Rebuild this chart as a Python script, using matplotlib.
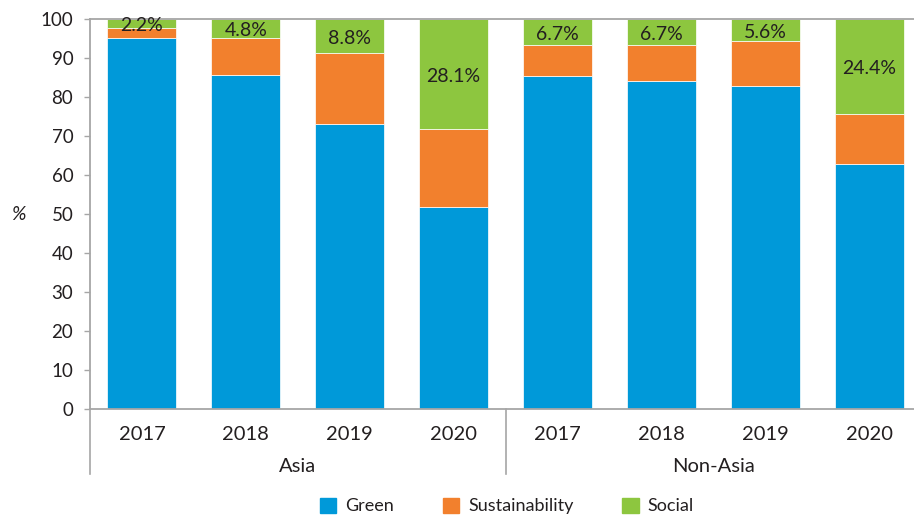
import matplotlib
matplotlib.use("Agg")
import matplotlib.pyplot as plt
import matplotlib.transforms as mtransforms
from matplotlib.patches import Patch
import numpy as np

plt.rcParams['font.family'] = ['Lato', 'DejaVu Sans']

groups = ["Asia", "Non-Asia"]
years = ["2017", "2018", "2019", "2020", "2017", "2018", "2019", "2020"]
green = [95.1, 85.6, 73.2, 51.7, 85.3, 84.2, 82.9, 62.7]
sustainability = [2.7, 9.6, 18.0, 20.2, 8.0, 9.1, 11.5, 12.9]
social = [2.2, 4.8, 8.8, 28.1, 6.7, 6.7, 5.6, 24.4]
social_labels = ["2.2%", "4.8%", "8.8%", "28.1%", "6.7%", "6.7%", "5.6%", "24.4%"]

c_green = "#0099D9"
c_sust = "#F2802D"
c_social = "#8DC63F"
txt = "#231F20"
spine_c = "#A6A6A6"

fig = plt.figure(figsize=(9.14, 5.17), dpi=100)
ax = fig.add_axes([90 / 914, 1 - 409 / 517, 831 / 914, 390 / 517])

x = np.arange(len(years))
w = 0.665
g = np.array(green)
s = np.array(sustainability)
so = np.array(social)
ax.bar(x, g, w, color=c_green, edgecolor="white", linewidth=0.5, zorder=2)
ax.bar(x, s, w, bottom=g, color=c_sust, edgecolor="white", linewidth=0.5, zorder=2)
ax.bar(x, so, w, bottom=g + s, color=c_social, edgecolor="white", linewidth=0.5, zorder=2)

for xi, b, h, lab in zip(x, g + s, so, social_labels):
    ax.text(xi, b + h / 2 - 0.6, lab, ha="center", va="center", fontsize=14, color=txt, zorder=3)

ax.set_xlim(-0.5, len(years) - 0.5)
ax.set_ylim(0, 100)
ax.set_yticks(np.arange(0, 101, 10))
ax.tick_params(axis="y", labelsize=13.5, colors=txt, length=4, width=1, color=spine_c, pad=8)
ax.set_xticks(x)
ax.set_xticklabels(years)
ax.tick_params(axis="x", labelsize=14.5, colors=txt, length=0, pad=12)

for side in ["left", "bottom", "top"]:
    ax.spines[side].set_color(spine_c)
    ax.spines[side].set_linewidth(1.3)
ax.spines["right"].set_visible(False)

ax.text(-0.0866, 0.5, "%", transform=ax.transAxes, fontsize=14, style="italic", color=txt,
        ha="center", va="center")

# group separators and group labels below the axis
trans = mtransforms.blended_transform_factory(ax.transData, ax.transAxes)
for xs in [-0.5, 3.5]:
    ax.plot([xs, xs], [0, -65 / 390], transform=trans, color=spine_c, lw=1.2, clip_on=False)
for gi, name in enumerate(groups):
    ax.text(gi * 4 + 1.5, -57 / 390, name, transform=trans, ha="center", va="center",
            fontsize=14.5, color=txt)

handles = [Patch(color=c_green, label="Green"),
           Patch(color=c_sust, label="Sustainability"),
           Patch(color=c_social, label="Social")]
fig.legend(handles=handles, loc="center", bbox_to_anchor=(507 / 914, 1 - 506 / 517), ncol=3,
           frameon=False, fontsize=13, handlelength=0.9, handleheight=0.9,
           handletextpad=0.5, columnspacing=2.7, labelcolor=txt)

fig.savefig("out.png", dpi=100)
